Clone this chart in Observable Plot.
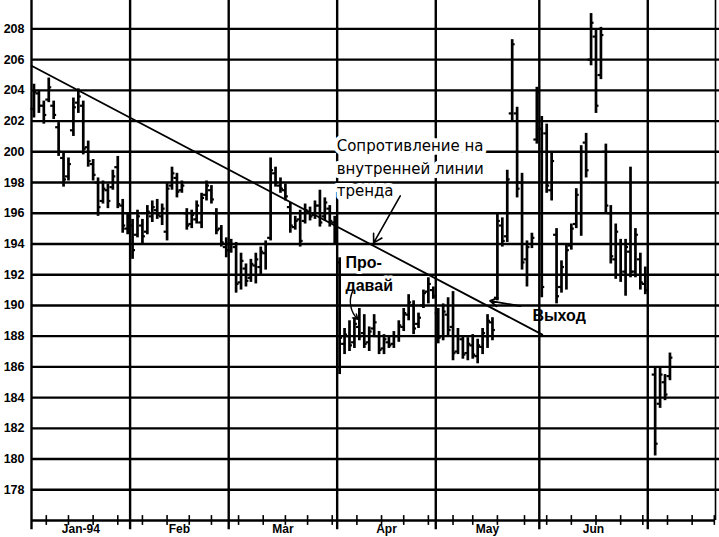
<!DOCTYPE html>
<html>
<head>
<meta charset="utf-8">
<script src="https://cdn.jsdelivr.net/npm/d3@7"></script>
<script src="https://cdn.jsdelivr.net/npm/@observablehq/plot@0.6"></script>
<style>
  html, body { margin: 0; padding: 0; background: #fff; }
  #chart svg { display: block; }
</style>
</head>
<body>
<div id="chart"></div>
<script>
// ---- data (trading-day bars, Jan–early Jul 1994) ----
const months = ["Jan-94", "Feb", "Mar", "Apr", "May", "Jun"];
// trading-day index at which each month begins (last entry = July)
const monthStart = [0, 20, 40, 62, 82, 103, 125];
const yTicks = [178, 180, 182, 184, 186, 188, 190, 192, 194, 196, 198, 200, 202, 204, 206, 208];
// weekly minor ticks on the time axis (trading-day index)
const weekTicks = [2.5, 7, 12, 17, 22, 27, 31.5, 36, 41.5, 46.5, 51, 55.5, 60.5, 65.5, 70.5, 75, 80, 85, 89, 94, 99.5, 104, 109, 114, 119, 123.5, 128.5, 133.5, 138];

const high = [
  204.4, 204.0, 203.3, 204.8, 203.3, 201.9, 199.9, 199.6, 203.5, 204.1, 203.3, 200.7, 199.5, 198.3, 198.1, 197.9, 198.8, 199.7, 196.9, 196.0,
  195.6, 196.2, 195.6, 196.5, 196.8, 196.9, 196.6, 198.0, 199.0, 198.6, 198.1, 196.3, 196.2, 196.8, 197.3, 198.1, 197.8, 196.3, 195.2, 194.4,
  194.3, 194.1, 193.4, 192.7, 193.0, 193.4, 193.8, 194.2, 199.6, 199.0, 198.3, 197.9, 196.7, 195.8, 196.2, 196.6, 196.4, 196.8, 197.5, 197.0, 196.5, 195.8,
  193.1, 188.5, 189.0, 189.2, 189.8, 189.4, 188.6, 189.4, 188.3, 188.1, 188.0, 188.3, 189.0, 189.8, 190.7, 190.3, 189.5, 191.0, 191.8, 191.2,
  189.8, 190.1, 190.5, 190.9, 188.5, 188.0, 187.9, 188.1, 187.8, 188.5, 189.4, 189.2, 196.0, 195.7, 198.8, 207.3, 202.9, 198.6, 194.2, 194.7, 204.2,
  202.3, 201.8, 199.9, 195.0, 192.9, 194.0, 195.3, 197.6, 200.4, 201.2, 209.0, 207.9, 208.1, 200.5, 196.5, 195.3, 194.3, 194.3, 199.0, 195.0, 193.4, 192.5,
  null, 185.9, 185.9, 185.5, 186.9
];
const low = [
  202.2, 202.5, 201.8, 203.2, 202.1, 199.7, 197.7, 198.1, 201.0, 202.5, 199.8, 199.0, 198.1, 195.8, 196.6, 196.3, 197.5, 196.3, 194.7, 194.6,
  193.0, 194.4, 194.0, 194.6, 195.4, 195.6, 195.2, 194.2, 197.5, 197.0, 197.3, 194.9, 195.0, 195.3, 195.0, 196.8, 196.6, 194.6, 193.8, 193.1,
  193.4, 190.8, 191.0, 191.2, 191.5, 191.4, 192.0, 192.3, 194.2, 197.7, 197.3, 196.8, 194.7, 194.9, 193.8, 195.3, 195.5, 195.6, 195.1, 195.5, 195.1, 194.0,
  185.5, 186.8, 187.0, 187.2, 187.7, 187.2, 187.0, 187.9, 186.8, 186.8, 187.2, 187.2, 187.6, 188.3, 189.0, 188.1, 188.5, 189.8, 190.1, 190.4,
  187.5, 187.7, 188.0, 186.4, 186.8, 186.5, 186.4, 186.5, 186.2, 186.8, 187.2, 187.7, 190.3, 193.8, 194.1, 202.0, 197.0, 192.3, 191.2, 193.7, 200.5,
  190.5, 197.3, 196.8, 190.1, 190.8, 191.0, 193.6, 195.0, 194.5, 198.3, 205.6, 202.5, 204.7, 196.0, 192.7, 191.7, 191.5, 190.6, 191.8, 191.8, 191.0, 190.7,
  null, 180.2, 183.3, 183.8, 185.1
];
const open = [
  202.8, 203.8, 203.0, 203.4, 203.0, 201.6, 199.6, 198.4, 201.4, 203.2, 203.0, 200.3, 199.2, 198.0, 196.8, 197.5, 197.7, 199.0, 196.5, 195.0,
  195.2, 194.6, 195.2, 194.8, 195.8, 196.2, 195.8, 194.8, 197.8, 198.3, 197.5, 196.0, 195.3, 195.6, 195.4, 197.2, 197.5, 196.0, 195.0, 193.8,
  193.6, 193.8, 191.5, 192.4, 191.8, 192.6, 192.5, 193.4, 194.4, 198.6, 197.8, 197.5, 196.4, 195.1, 195.6, 195.5, 196.1, 195.9, 196.5, 195.8, 196.3, 195.4,
  192.8, 187.5, 188.0, 187.6, 188.6, 188.2, 187.6, 188.5, 188.0, 187.2, 187.6, 187.5, 188.0, 188.6, 189.4, 190.0, 188.8, 190.0, 190.9, 191.0,
  189.5, 188.0, 189.4, 188.6, 187.0, 187.8, 186.9, 187.4, 186.7, 187.3, 188.0, 188.9, 190.5, 195.2, 194.5, 202.5, 202.5, 198.0, 193.0, 194.0, 200.8,
  201.5, 201.2, 197.5, 194.6, 191.2, 192.0, 193.9, 195.3, 196.0, 200.6, 206.0, 207.5, 205.0, 200.0, 196.0, 193.0, 194.0, 192.2, 193.5, 192.2, 193.0, 191.4,
  null, 185.5, 183.6, 185.0, 185.4
];
const close = [
  203.9, 203.0, 202.4, 204.2, 202.4, 200.0, 198.2, 199.2, 202.9, 203.6, 200.2, 199.4, 198.5, 196.4, 197.6, 196.8, 198.4, 196.6, 195.2, 195.6,
  193.6, 195.8, 194.5, 196.1, 196.4, 195.9, 196.3, 197.6, 198.6, 197.4, 197.8, 195.2, 195.9, 196.5, 197.0, 197.8, 196.9, 194.9, 194.1, 193.6,
  194.0, 191.4, 192.9, 191.6, 192.7, 193.0, 193.5, 194.0, 198.8, 198.0, 197.6, 197.1, 195.2, 195.5, 194.2, 196.2, 195.8, 196.5, 195.4, 196.7, 195.5, 194.4,
  187.9, 188.1, 187.4, 188.8, 188.0, 187.5, 188.3, 188.9, 187.1, 187.8, 187.4, 188.0, 188.7, 189.5, 190.2, 188.5, 189.2, 190.8, 191.4, 190.6,
  187.9, 189.6, 188.4, 186.9, 188.0, 186.8, 187.5, 186.8, 187.4, 188.2, 189.0, 188.4, 195.5, 194.2, 198.2, 207.0, 197.6, 192.8, 193.8, 194.4, 203.9,
  191.2, 197.8, 199.4, 190.6, 192.5, 193.6, 195.0, 197.2, 200.0, 198.8, 208.4, 203.0, 207.6, 196.5, 193.2, 194.8, 192.0, 193.8, 192.2, 194.6, 191.5, 191.0,
  null, 181.0, 185.5, 184.2, 186.6
];

// hand-drawn trend line (trading-day index, price)
const trendDay = [-0.5, 103.1];
const trendPrice = [205.6, 188.1];

// ---- build chart ----
const bars = high.map((h, i) => ({i, high: h, low: low[i], open: open[i], close: close[i]}))
  .filter(d => d.high != null);
const trend = trendDay.map((t, k) => ({t, p: trendPrice[k]}));
const monthLines = monthStart.map(s => s - 0.5);
const monthLabels = months.map((m, k) => ({m, x: (monthStart[k] + monthStart[k + 1]) / 2 - 0.5}));

const xMax = 138.24; // right frame
const yLo = 176, yHi = 209.85;
const sans = "Liberation Sans, Arial, sans-serif";

const chart = Plot.plot({
  width: 719,
  height: 537,
  marginLeft: 31,
  marginRight: 0,
  marginTop: 0,
  marginBottom: 17,
  style: {background: "#fff", fontFamily: sans},
  x: {type: "linear", domain: [-0.5, 139.05], axis: null},
  y: {domain: [yLo, yHi], axis: null},
  marks: [
    // horizontal grid
    Plot.ruleY(yTicks, {stroke: "#000", strokeWidth: 2.4}),
    // month boundaries
    Plot.ruleX(monthLines, {y1: 175.4, y2: yHi, stroke: "#000", strokeWidth: 2.4}),
    // right frame
    Plot.ruleX([xMax], {y1: yLo, y2: yHi, stroke: "#000", strokeWidth: 1.6}),
    // bottom axis line and weekly ticks
    Plot.ruleY([yLo], {x1: -0.5, x2: xMax, stroke: "#000", strokeWidth: 2.6}),
    Plot.ruleX(weekTicks, {y1: 175.68, y2: 176.32, stroke: "#000", strokeWidth: 1.6}),
    // y labels
    Plot.text(yTicks, {x: -0.5, y: d => d, text: d => String(d), textAnchor: "end", dx: -7,
      fontWeight: "bold", fontSize: 12.5, fontFamily: sans, fill: "#000"}),
    // month labels
    Plot.text(monthLabels, {x: "x", y: 175.42, text: "m", fontWeight: "bold", fontSize: 12,
      fontFamily: sans, fill: "#000"}),
    // OHLC bars
    Plot.ruleX(bars, {x: "i", y1: "low", y2: "high", stroke: "#000", strokeWidth: 2.7}),
    Plot.ruleY(bars, {y: "open", x1: d => d.i - 0.6, x2: d => d.i, stroke: "#000", strokeWidth: 2.2}),
    Plot.ruleY(bars, {y: "close", x1: d => d.i, x2: d => d.i + 0.6, stroke: "#000", strokeWidth: 2.2}),
    // trend line
    Plot.line(trend, {x: "t", y: "p", stroke: "#000", strokeWidth: 1.8}),
    // annotations
    Plot.text(["Сопротивление на\nвнутренней линии\nтренда"], {x: 61.4, y: 199.05, text: d => d,
      textAnchor: "start", lineAnchor: "middle", lineHeight: 1.5, fontSize: 15,
      fontFamily: "DejaVu Sans, sans-serif", fill: "#000", stroke: "#fff", strokeWidth: 8, paintOrder: "stroke"}),
    Plot.arrow([{}], {x1: 74.3, y1: 197.13, x2: 68.9, y2: 194.07, stroke: "#000", strokeWidth: 1.6, headLength: 9}),
    Plot.text(["Про-\nдавай"], {x: 63.2, y: 192.15, text: d => d, textAnchor: "start", lineAnchor: "middle",
      lineHeight: 1.44, fontSize: 16, fontWeight: "bold", fontFamily: sans, fill: "#000",
      stroke: "#fff", strokeWidth: 6, paintOrder: "stroke"}),
    Plot.arrow([{}], {x1: 64.6, y1: 190.9, x2: 65.7, y2: 189.1, bend: -35, stroke: "#000", strokeWidth: 1.4, headLength: 6}),
    Plot.text(["Выход"], {x: 101.1, y: 189.32, text: d => d, textAnchor: "start", fontSize: 16,
      fontWeight: "bold", fontFamily: sans, fill: "#000"}),
    Plot.arrow([{}], {x1: 98.7, y1: 189.95, x2: 92.5, y2: 190.3, stroke: "#000", strokeWidth: 1.8, headLength: 7})
  ]
});
document.getElementById("chart").appendChild(chart);
</script>
</body>
</html>
